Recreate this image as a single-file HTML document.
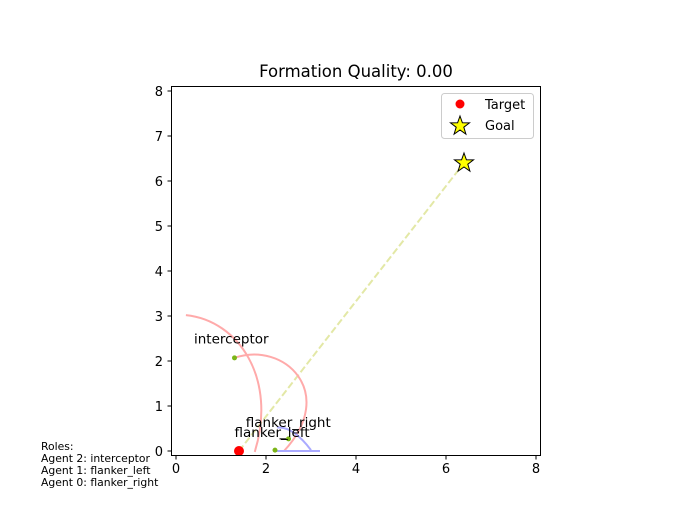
<!DOCTYPE html>
<html><head><meta charset="utf-8"><style>
body{margin:0;background:#fff;font-family:"Liberation Sans","DejaVu Sans",sans-serif}
</style></head><body>
<svg width="674" height="508" xmlns="http://www.w3.org/2000/svg" font-family="DejaVu Sans, Liberation Sans, sans-serif">
<rect width="674" height="508" fill="#fff"/>
<text x="356" y="77" text-anchor="middle" font-size="16.5">Formation Quality: 0.00</text>
<g id="ticks"></g>
<g id="marks"></g>
<rect x="171.5" y="86.5" width="369" height="369" fill="none" stroke="#000" stroke-width="1"/>
<g>
<rect x="441.5" y="93.5" width="92" height="45" rx="3" fill="#fff" stroke="#ccc"/>
<circle cx="460" cy="104" r="4.5" fill="red"/>
<text x="485" y="109" font-size="13">Target</text>
<polygon id="lstar" fill="yellow" stroke="#000"/>
<text x="485" y="130" font-size="13">Goal</text>
</g>
<g font-size="10.8">
<text x="41" y="450">Roles:</text>
<text x="41" y="462">Agent 2: interceptor</text>
<text x="41" y="474">Agent 1: flanker_left</text>
<text x="41" y="486">Agent 0: flanker_right</text>
</g>
</svg>
<script>
const xTicks=[0,2,4,6,8];
const yTicks=[0,1,2,3,4,5,6,7,8];
const target=[1.4,0];
const goal=[6.4,6.4];
const agentNames=["flanker_right","flanker_left","interceptor"];
const agentX=[2.5,2.2,1.3];
const agentY=[0.27,0.02,2.07];
const labelX=[1.55,1.3,0.4];
const labelY=[0.65,0.42,2.5];
const trail1X=[0.22,1.4,2.25,1.75];
const trail1Y=[3.02,2.9,1.6,-0.02];
const trail2X=[1.3,2.4,3.6,2.4];
const trail2Y=[2.07,2.45,1.3,0];
const NS="http://www.w3.org/2000/svg";
const X=v=>176+45*v, Y=v=>451-45*v;
const tk=document.getElementById('ticks'), mk=document.getElementById('marks');
function el(t,a,p){const e=document.createElementNS(NS,t);for(const k in a)e.setAttribute(k,a[k]);p.appendChild(e);return e;}
xTicks.forEach(v=>{
 el('line',{x1:X(v),x2:X(v),y1:455.5,y2:459.5,stroke:'#000'},tk);
 const t=el('text',{x:X(v),y:473,'text-anchor':'middle','font-size':13},tk);t.textContent=v;
 
 
});
yTicks.forEach(v=>{
 el('line',{x1:167.5,x2:171.5,y1:Y(v),y2:Y(v),stroke:'#000'},tk);
 const t=el('text',{x:163,y:Y(v)+5,'text-anchor':'end','font-size':13},tk);t.textContent=v;
 
 
});
const d=el('line',{x1:X(target[0]),y1:Y(target[1]),x2:X(goal[0]),y2:Y(goal[1]),stroke:'#e3e8a6','stroke-width':2,'stroke-dasharray':'7,3'},mk);


function bez(xs,ys){return `M${X(xs[0])},${Y(ys[0])} C${X(xs[1])},${Y(ys[1])} ${X(xs[2])},${Y(ys[2])} ${X(xs[3])},${Y(ys[3])}`;}
const t1=el('path',{d:bez(trail1X,trail1Y),fill:'none',stroke:'#ffaaaa','stroke-width':2},mk);


const t2=el('path',{d:bez(trail2X,trail2Y),fill:'none',stroke:'#ffaaaa','stroke-width':2},mk);


const bl=el('path',{d:`M${X(2.2)},${Y(0)} L${X(3.2)},${Y(0)} M${X(2.25)},${Y(0.52)} Q${X(2.6)},${Y(0.55)} ${X(3.0)},${Y(0.02)}`,fill:'none',stroke:'#aaaaff','stroke-width':2},mk);


const ar=el('line',{x1:X(2.3),y1:Y(0.27),x2:X(2.5),y2:Y(0.27),stroke:'#000','stroke-width':1},mk);


const tg=el('circle',{cx:X(target[0]),cy:Y(target[1]),r:5,fill:'red'},mk);


agentNames.forEach((n,i)=>{
 const c=el('circle',{cx:X(agentX[i]),cy:Y(agentY[i]),r:2.5,fill:'#7cb518'},mk);
 
 
 const t=el('text',{x:X(labelX[i]),y:Y(labelY[i])+5,'font-size':13.5},mk);t.textContent=n;
 
 
});
function star(cx,cy,R){let p=[];for(let k=0;k<10;k++){const r=k%2?R*0.4:R;const a=-Math.PI/2+k*Math.PI/5;p.push((cx+r*Math.cos(a)).toFixed(1)+','+(cy+r*Math.sin(a)).toFixed(1));}return p.join(' ');}
const gs=el('polygon',{points:star(X(goal[0]),Y(goal[1]),10),fill:'yellow',stroke:'#000'},mk);


document.getElementById('lstar').setAttribute('points',star(460,126,10));
</script>
</body></html>
